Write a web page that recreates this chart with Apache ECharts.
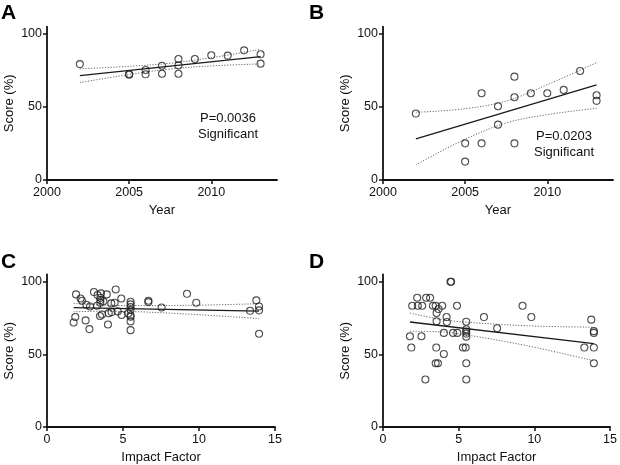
<!DOCTYPE html>
<html>
<head>
<meta charset="utf-8">
<script src="https://cdn.jsdelivr.net/npm/echarts@6/dist/echarts.min.js"></script>
<style>
html,body{margin:0;padding:0;background:#fff;}
#chart{width:620px;height:465px;}
</style>
</head>
<body>
<div id="chart"></div>
<script>
// ---------- Data ----------
// Panel A: Year vs Score
var A_year  = [2002,2005,2005,2006,2006,2007,2007,2008,2008,2008,2009,2010,2011,2012,2013,2013];
var A_score = [79.4,72.1,72.6,75.3,72.4,78.3,72.8,82.9,78.5,72.8,82.9,85.4,85.2,88.8,86.1,79.7];
var A_fitX  = [2002, 2013];
var A_fitY  = [71.5, 84.5];
var A_bandX = [2002, 2004.75, 2007.5, 2010.25, 2013];
var A_bandUp = [76.2, 77.7, 80.0, 84.2, 89.5];
var A_bandLo = [66.7, 71.8, 76.0, 78.3, 79.5];
var A_text = ["P=0.0036", "Significant"];

// Panel B: Year vs Score
var B_year  = [2002,2005,2005,2006,2006,2007,2007,2008,2008,2008,2009,2010,2011,2012,2013,2013];
var B_score = [45.5,25.1,12.6,59.4,25.1,50.5,37.9,70.8,56.7,25.1,59.4,59.4,61.7,74.7,58.0,54.2];
var B_fitX  = [2002, 2013];
var B_fitY  = [28.1, 65.1];
var B_bandX = [2002, 2004.75, 2007.5, 2010.25, 2013];
var B_bandUp = [46.4, 48.5, 54.1, 66.5, 80.4];
var B_bandLo = [10.3, 26.6, 39.1, 45.2, 49.1];
var B_text = ["P=0.0203", "Significant"];

// Panel C: Impact Factor vs Score
var C_if    = [1.75,1.86,1.91,2.21,2.30,2.54,2.59,2.79,2.83,3.09,3.29,3.33,3.51,3.51,3.51,3.55,3.49,3.62,3.71,3.93,4.01,4.06,4.23,4.25,4.45,4.52,4.65,4.89,4.91,5.35,5.5,5.5,5.5,5.5,5.5,5.5,5.5,5.5,6.67,6.67,7.54,9.21,9.82,13.36,13.77,13.95,13.95,13.95];
var C_score = [72.0,75.7,91.3,88.5,86.9,73.4,84.2,67.4,83.0,92.9,83.5,90.8,87.4,89.0,85.6,92.0,76.4,77.5,86.5,91.3,70.6,78.4,85.1,79.1,85.6,94.7,79.6,88.5,77.1,78.2,86.2,84.4,82.6,80.7,76.8,75.9,72.7,66.7,86.9,86.0,82.3,91.7,85.6,80.0,87.2,83.0,80.3,64.2];
var C_fitX  = [1.75, 13.95];
var C_fitY  = [82.2, 79.8];
var C_bandX = [1.75, 3.4, 5.0, 9.5, 13.95];
var C_bandUp = [85.1, 84.1, 83.6, 83.8, 84.9];
var C_bandLo = [79.3, 79.7, 79.6, 77.6, 74.7];

// Panel D: Impact Factor vs Score
var D_if    = [1.78,1.87,1.93,2.26,2.30,2.59,2.54,2.80,2.85,3.11,3.30,3.48,3.54,3.54,3.52,3.48,3.63,3.67,3.91,4.02,4.02,4.20,4.22,4.46,4.50,4.63,4.89,4.91,5.28,5.46,5.5,5.5,5.5,5.5,5.5,5.5,5.5,6.67,7.54,9.22,9.80,13.30,13.76,13.93,13.93,13.93,13.93];
var D_score = [62.5,54.7,83.5,89.0,83.5,83.5,62.5,32.7,89.0,89.0,83.5,83.5,78.5,72.8,54.7,43.9,43.9,81.2,83.5,64.8,50.3,75.7,72.3,100,100,64.8,83.5,64.8,54.7,54.7,72.5,67.3,65.7,64.3,62.2,43.9,32.7,75.7,68.0,83.5,75.7,54.7,73.9,66.0,64.8,54.7,43.9];
var D_fitX  = [1.78, 13.93];
var D_fitY  = [72.3, 57.4];
var D_bandX = [1.78, 3.4, 5.0, 9.5, 13.93];
var D_bandUp = [78.5, 74.9, 72.6, 69.7, 68.7];
var D_bandLo = [65.9, 65.7, 64.2, 56.0, 45.6];

var yTicks = [0, 50, 100];
var yearTicks = [2000, 2005, 2010];
var ifTicks = [0, 5, 10, 15];
var panelLetters = ["A", "B", "C", "D"];

// ---------- Build chart ----------
function zip(xs, ys) { return xs.map(function (x, i) { return [x, ys[i]]; }); }

var FONT = "Liberation Sans, Arial, Helvetica, sans-serif";
var grids = [
  {left: 47, top: 26.7, width: 230, height: 153.3},
  {left: 383, top: 26.7, width: 230, height: 153.3},
  {left: 47, top: 274.5, width: 228, height: 153.5},
  {left: 383, top: 274.5, width: 230, height: 152.8}
];

function plain(v) { return String(v); }

function xAxisDef(idx, min, max, ticks, name) {
  return {
    type: 'value', gridIndex: idx, min: min, max: max,
    name: name, nameLocation: 'middle', nameGap: 24,
    nameTextStyle: {fontFamily: FONT, fontSize: 13, color: '#111'},
    axisLine: {show: true, onZero: false, lineStyle: {color: '#111', width: 1.8}},
    axisTick: {show: true, inside: false, length: 4, customValues: ticks, lineStyle: {color: '#111', width: 1.5}},
    axisLabel: {customValues: ticks, formatter: plain, fontFamily: FONT, fontSize: 12.5, color: '#111', margin: 6},
    splitLine: {show: false}
  };
}
function yAxisDef(idx) {
  return {
    type: 'value', gridIndex: idx, min: 0, max: 105,
    name: 'Score (%)', nameLocation: 'middle', nameGap: 31, nameRotate: 90,
    nameTextStyle: {fontFamily: FONT, fontSize: 13, color: '#111'},
    axisLine: {show: true, onZero: false, lineStyle: {color: '#111', width: 1.8}},
    axisTick: {show: true, inside: false, length: 4, customValues: yTicks, lineStyle: {color: '#111', width: 1.5}},
    axisLabel: {customValues: yTicks, formatter: plain, fontFamily: FONT, fontSize: 12.5, color: '#111', margin: 5},
    splitLine: {show: false}
  };
}

var panels = [
  {x: A_year, y: A_score, fx: A_fitX, fy: A_fitY, bx: A_bandX, bu: A_bandUp, bl: A_bandLo},
  {x: B_year, y: B_score, fx: B_fitX, fy: B_fitY, bx: B_bandX, bu: B_bandUp, bl: B_bandLo},
  {x: C_if, y: C_score, fx: C_fitX, fy: C_fitY, bx: C_bandX, bu: C_bandUp, bl: C_bandLo},
  {x: D_if, y: D_score, fx: D_fitX, fy: D_fitY, bx: D_bandX, bu: D_bandUp, bl: D_bandLo}
];

var series = [];
panels.forEach(function (p, i) {
  var bandStyle = {color: '#666', width: 1, type: [1.2, 1.6]};
  series.push({type: 'line', xAxisIndex: i, yAxisIndex: i, data: zip(p.bx, p.bu), smooth: 0.35,
    showSymbol: false, silent: true, lineStyle: bandStyle, z: 2});
  series.push({type: 'line', xAxisIndex: i, yAxisIndex: i, data: zip(p.bx, p.bl), smooth: 0.35,
    showSymbol: false, silent: true, lineStyle: bandStyle, z: 2});
  series.push({type: 'line', xAxisIndex: i, yAxisIndex: i, data: zip(p.fx, p.fy),
    showSymbol: false, silent: true, lineStyle: {color: '#1a1a1a', width: 1.3}, z: 3});
  series.push({type: 'scatter', xAxisIndex: i, yAxisIndex: i, data: zip(p.x, p.y),
    symbol: 'circle', symbolSize: 7, silent: true,
    itemStyle: {color: 'rgba(255,255,255,0)', borderColor: '#222', borderWidth: 1.1}, z: 4});
});

var letterPos = [[1, 3], [309, 3], [1, 252], [309, 252]];
var graphics = panelLetters.map(function (t, i) {
  return {type: 'text', left: letterPos[i][0], top: letterPos[i][1],
    style: {text: t, font: 'bold 21px ' + FONT, fill: '#000'}};
});
graphics.push({type: 'text', x: 228, y: 118, style: {text: A_text[0], font: '13px ' + FONT, fill: '#111', align: 'center', verticalAlign: 'middle'}});
graphics.push({type: 'text', x: 228, y: 134, style: {text: A_text[1], font: '13px ' + FONT, fill: '#111', align: 'center', verticalAlign: 'middle'}});
graphics.push({type: 'text', x: 564, y: 136.5, style: {text: B_text[0], font: '13px ' + FONT, fill: '#111', align: 'center', verticalAlign: 'middle'}});
graphics.push({type: 'text', x: 564, y: 152, style: {text: B_text[1], font: '13px ' + FONT, fill: '#111', align: 'center', verticalAlign: 'middle'}});

var option = {
  animation: false,
  backgroundColor: '#fff',
  grid: grids,
  xAxis: [
    xAxisDef(0, 2000, 2014, yearTicks, 'Year'),
    xAxisDef(1, 2000, 2014, yearTicks, 'Year'),
    xAxisDef(2, 0, 15, ifTicks, 'Impact Factor'),
    xAxisDef(3, 0, 15, ifTicks, 'Impact Factor')
  ],
  yAxis: [yAxisDef(0), yAxisDef(1), yAxisDef(2), yAxisDef(3)],
  series: series,
  graphic: graphics
};

var chart = echarts.init(document.getElementById('chart'), null, {renderer: 'canvas'});
chart.setOption(option);
</script>
</body>
</html>
